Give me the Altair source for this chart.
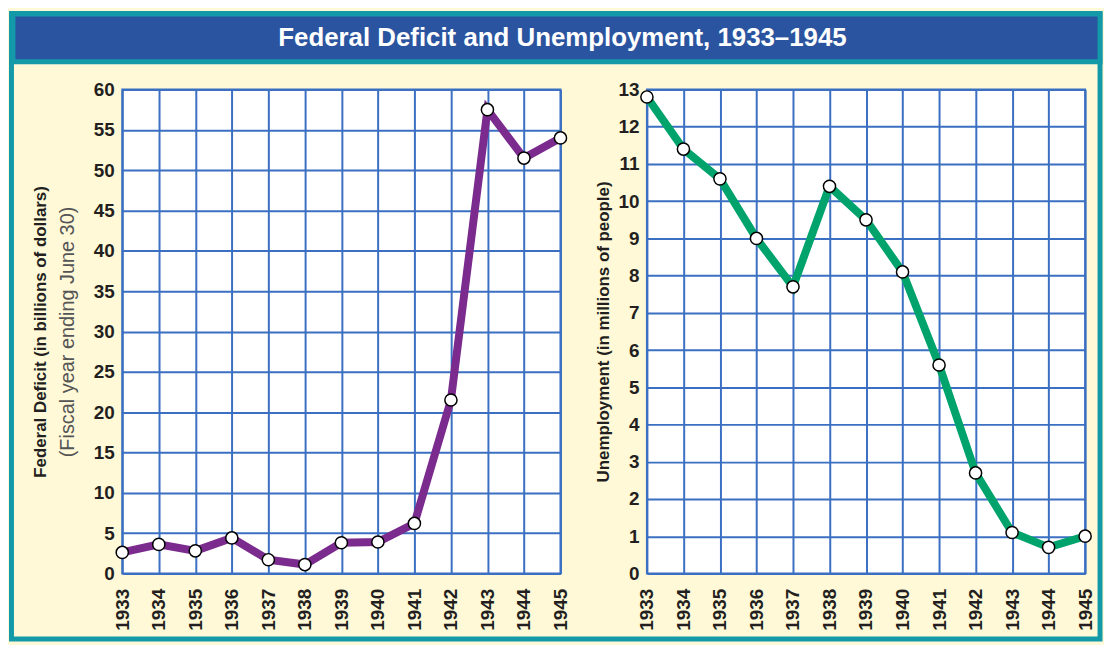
import altair as alt
import pandas as pd

years = [1933, 1934, 1935, 1936, 1937, 1938, 1939, 1940, 1941, 1942, 1943, 1944, 1945]
deficit = [2.6, 3.6, 2.8, 4.4, 1.7, 1.1, 3.8, 3.9, 6.2, 21.5, 57.5, 51.5, 54.0]
unemployment = [12.8, 11.4, 10.6, 9.0, 7.7, 10.4, 9.5, 8.1, 5.6, 2.7, 1.1, 0.7, 1.0]
deficit_ticks = [0, 5, 10, 15, 20, 25, 30, 35, 40, 45, 50, 55, 60]
unemployment_ticks = [0, 1, 2, 3, 4, 5, 6, 7, 8, 9, 10, 11, 12, 13]
chart_title = "Federal Deficit and Unemployment, 1933\u20131945"
deficit_title = "Federal Deficit (in billions of dollars)"
deficit_subtitle = "(Fiscal year ending June 30)"
unemployment_title = "Unemployment (in millions of people)"

W, H = 441, 487
GRID = "#3b6fc2"
PURPLE = "#7b2a8e"
GREEN = "#00a36c"
CREAM = "#fff9d8"
TEAL = "#1399a8"
BLUE = "#2b54a0"
INK = "#231f20"
FONT = "Liberation Sans"

df = pd.DataFrame({"year": years, "deficit": deficit, "unemployment": unemployment})
title_df = pd.DataFrame({"title": [chart_title]})


def x_enc():
    return alt.X(
        "year:Q",
        scale=alt.Scale(domain=[years[0], years[-1]], nice=False, zero=False),
        axis=alt.Axis(
            values=years, format="d", labelAngle=270, labelPadding=15,
            labelFontSize=19, labelFontWeight="bold", labelColor=INK, labelFont=FONT,
            labelFlush=False, labelOverlap=False, ticks=False, domain=False,
            grid=True, gridColor=GRID, gridWidth=2, gridOpacity=1, title=None,
        ),
    )


def y_scale(maxv):
    return alt.Scale(domain=[0, maxv], nice=False, zero=True)


def value_axis(values, title, title_padding):
    return alt.Axis(
        orient="left", values=values, labelFontSize=19, labelFontWeight="bold",
        labelColor=INK, labelFont=FONT, labelPadding=8, ticks=False, domain=False,
        grid=True, gridColor=GRID, gridWidth=2, gridOpacity=1,
        title=title, titleFontWeight="bold", titleFontSize=17,
        titleColor=INK, titleFont=FONT, titlePadding=title_padding,
    )


# decorations: outer frame and title bar
frame = alt.Chart(title_df).mark_rect(fillOpacity=0, stroke=TEAL, strokeWidth=5).encode(
    x=alt.value(-111.5), x2=alt.value(984), y=alt.value(-76.5), y2=alt.value(553)
)
bar = alt.Chart(title_df).mark_rect(fill=BLUE, stroke=TEAL, strokeWidth=5).encode(
    x=alt.value(-110), x2=alt.value(984), y=alt.value(-76), y2=alt.value(-28)
)
title_txt = alt.Chart(title_df).mark_text(
    color="white", font=FONT, fontWeight="bold", fontSize=26,
    align="center", baseline="middle"
).encode(x=alt.value(443), y=alt.value(-52), text="title:N")

deficit_axis = alt.Axis(
    orient="left", values=deficit_ticks, labelFontSize=19, labelFontWeight="bold",
    labelColor=INK, labelFont=FONT, labelPadding=8, ticks=False, domain=False,
    grid=True, gridColor=GRID, gridWidth=2, gridOpacity=1,
    title=deficit_subtitle, titleFontWeight="normal", titleFontSize=20,
    titleColor="#555555", titleFont=FONT, titlePadding=16,
)

line_l = alt.Chart(df).mark_line(color=PURPLE, strokeWidth=8).encode(
    x=x_enc(),
    y=alt.Y("deficit:Q", scale=y_scale(60), axis=deficit_axis),
)
pts_l = alt.Chart(df).mark_circle(
    fill="white", stroke="black", strokeWidth=1.5, size=150, opacity=1
).encode(
    x=x_enc(),
    y=alt.Y(
        "deficit:Q", scale=y_scale(60),
        axis=alt.Axis(
            orient="left", labels=False, ticks=False, domain=False, grid=False,
            title=deficit_title, titleFontWeight="bold", titleFontSize=17,
            titleColor=INK, titleFont=FONT, titlePadding=73,
        ),
    ),
)

unemp_axis = value_axis(unemployment_ticks, unemployment_title, 6)
line_r = alt.Chart(df).mark_line(color=GREEN, strokeWidth=8).encode(
    x=x_enc(),
    y=alt.Y("unemployment:Q", scale=y_scale(13), axis=unemp_axis),
)
pts_r = alt.Chart(df).mark_circle(
    fill="white", stroke="black", strokeWidth=1.5, size=150, opacity=1
).encode(
    x=x_enc(),
    y=alt.Y("unemployment:Q", scale=y_scale(13), axis=unemp_axis),
)

left = alt.layer(frame, bar, title_txt, line_l, pts_l).resolve_scale(y="independent").properties(
    width=W, height=H
)
right = alt.layer(line_r, pts_r).properties(width=W, height=H)

chart = (
    alt.hconcat(left, right, spacing=87, bounds="flush")
    .properties(padding=0, background=CREAM)
    .configure_view(stroke=GRID, strokeWidth=2, fill="white")
)

chart.save("out.html", embed_options={"renderer": "svg", "actions": False})
